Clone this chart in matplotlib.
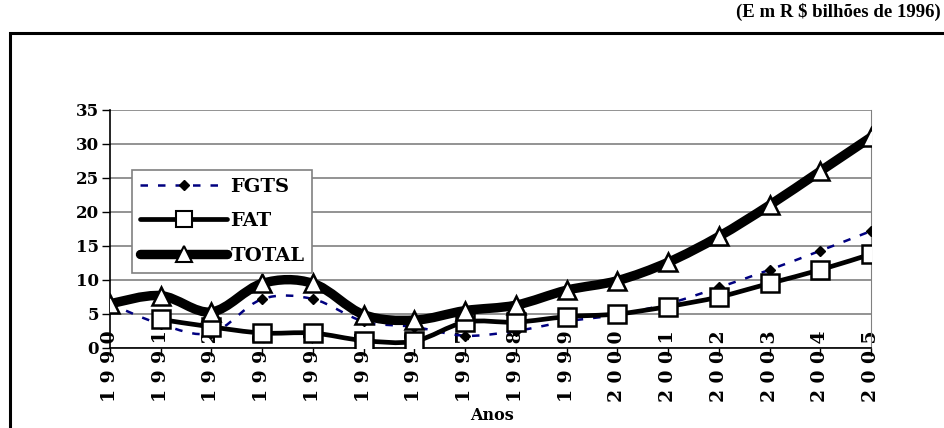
import matplotlib
matplotlib.use("Agg")
import matplotlib.pyplot as plt
from matplotlib.path import Path
from matplotlib.patches import PathPatch, Rectangle
from matplotlib.lines import Line2D
import numpy as np

plt.rcParams['font.family'] = ['DejaVu Serif']

anos = ['1990', '1991', '1992', '1993', '1994', '1995', '1996', '1997',
        '1998', '1999', '2000', '2001', '2002', '2003', '2004', '2005']
fgts = [6.5, 3.5, 2.2, 7.2, 7.2, 3.9, 3.1, 1.8, 2.5, 3.9, 4.9, 6.5, 8.9, 11.5, 14.3, 17.2]
fat = [None, 4.2, 3.1, 2.2, 2.2, 1.1, 1.0, 3.8, 3.8, 4.6, 5.0, 6.1, 7.5, 9.5, 11.5, 13.8]
total = [6.5, 7.7, 5.3, 9.5, 9.5, 4.9, 4.1, 5.5, 6.3, 8.5, 9.9, 12.6, 16.4, 21.0, 26.0, 31.0]


def smooth_path(xs, ys):
    # Excel-like smoothed line: cubic Bezier segments through the points
    pts = np.column_stack([xs, ys]).astype(float)
    n = len(pts)
    verts = [pts[0]]
    codes = [Path.MOVETO]
    for i in range(n - 1):
        p0 = pts[i - 1] if i > 0 else pts[i]
        p1 = pts[i]
        p2 = pts[i + 1]
        p3 = pts[i + 2] if i + 2 < n else pts[i + 1]
        c1 = p1 + (p2 - p0) / 6.0
        c2 = p2 - (p3 - p1) / 6.0
        verts += [c1, c2, p2]
        codes += [Path.CURVE4] * 3
    return Path(verts, codes)


fig = plt.figure(figsize=(9.45, 4.28), dpi=100)
ax = fig.add_axes([110 / 945, 1 - 348 / 428, 761 / 945, 238 / 428])

# outer chart border (top and left visible)
fig.patches.append(Rectangle((10 / 945, -0.1), 1.2, 1 - 33 / 428 + 0.1,
                             transform=fig.transFigure, fill=False,
                             edgecolor='black', linewidth=2.2, zorder=0))

fig.text(0.995, 0.972, '(E m R $ bilhões de 1996)', ha='right', va='center',
         fontsize=13.5, fontweight='bold', family='Liberation Serif')

x = np.arange(len(anos))

# FGTS
ax.add_patch(PathPatch(smooth_path(x, fgts), fill=False, edgecolor='#000080',
                       linewidth=1.8, linestyle=(0, (3, 4)), zorder=3))
ax.plot(x, fgts, linestyle='none', marker='D', markersize=5,
        color='black', zorder=4)

# FAT
fx = [i for i, v in enumerate(fat) if v is not None]
fy = [v for v in fat if v is not None]
ax.add_patch(PathPatch(smooth_path(fx, fy), fill=False, edgecolor='black',
                       linewidth=3.4, capstyle='round', zorder=5))
ax.plot(fx, fy, linestyle='none', marker='s', markersize=13,
        markerfacecolor='white', markeredgecolor='black',
        markeredgewidth=1.8, zorder=6)

# TOTAL
ax.add_patch(PathPatch(smooth_path(x, total), fill=False, edgecolor='black',
                       linewidth=6.8, capstyle='round', zorder=7))
ax.plot(x, total, linestyle='none', marker='^', markersize=13,
        markerfacecolor='white', markeredgecolor='black',
        markeredgewidth=1.8, zorder=8)

ax.set_xlim(0, 15)
ax.set_ylim(0, 35)
ax.set_yticks(range(0, 40, 5))
ax.set_yticklabels([str(v) for v in range(0, 40, 5)], fontsize=12,
                   fontweight='bold')
ax.yaxis.grid(True, color='#808080', linewidth=1.2)
ax.set_axisbelow(True)
ax.tick_params(axis='y', length=5.8, width=1, direction='out', pad=2)

ax.set_xticks(x)
ax.set_xticklabels([' '.join(a) for a in anos], rotation=90,
                   fontsize=13.5, fontweight='bold')
ax.tick_params(axis='x', length=5.8, width=1, direction='out', pad=7)
for t in ax.xaxis.get_major_ticks():
    t.label1.set_verticalalignment('center')

ax.spines['top'].set_visible(False)
ax.spines['right'].set_color('#808080')
ax.spines['left'].set_linewidth(1.2)
ax.spines['bottom'].set_linewidth(1.2)

fig.text(0.521, 0.03, 'Anos', ha='center', va='center', fontsize=11.5,
         fontweight='bold')

handles = [
    Line2D([], [], color='#000080', linestyle=(0, (3, 4)), linewidth=1.8,
           marker='D', markersize=5, markerfacecolor='black',
           markeredgecolor='black'),
    Line2D([], [], color='black', linewidth=3.4, marker='s', markersize=11,
           markerfacecolor='white', markeredgecolor='black',
           markeredgewidth=1.5, solid_capstyle='round'),
    Line2D([], [], color='black', linewidth=6.8, marker='^', markersize=11,
           markerfacecolor='white', markeredgecolor='black',
           markeredgewidth=1.5, solid_capstyle='round'),
]
leg = ax.legend(handles, ['FGTS', 'FAT', 'TOTAL'], loc='upper left',
                bbox_to_anchor=(0.029, 0.748), frameon=True, fancybox=False,
                edgecolor='#808080', framealpha=1, handlelength=4.5,
                handletextpad=0.15, borderpad=0.4, labelspacing=0.85,
                borderaxespad=0, prop={'weight': 'bold', 'size': 14})
leg.get_frame().set_linewidth(1.2)
leg.set_zorder(10)

fig.savefig('out.png', dpi=100)
